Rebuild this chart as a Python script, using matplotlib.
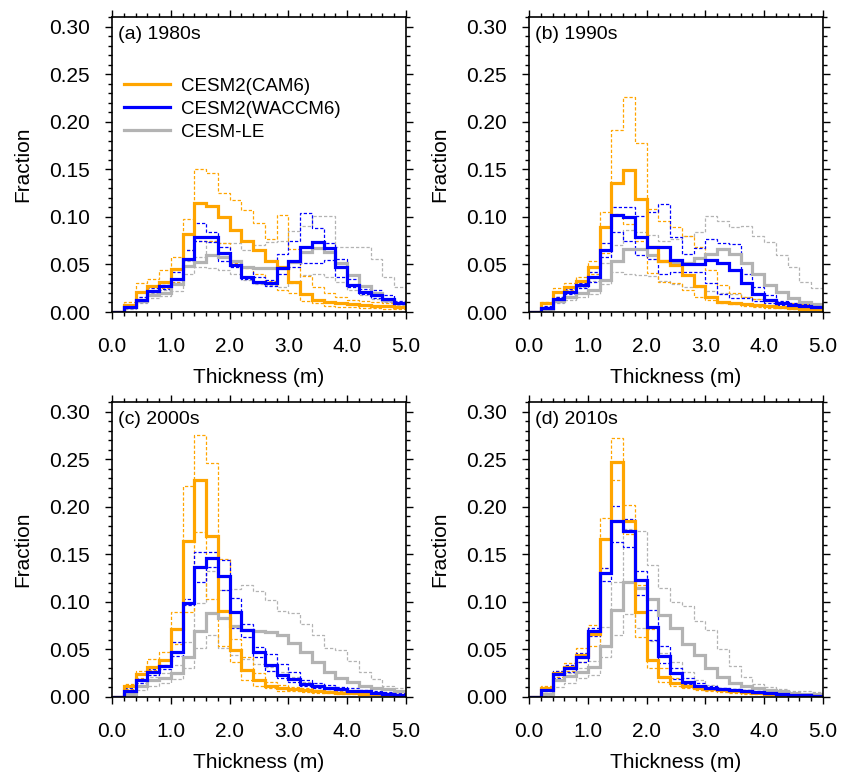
#!/usr/bin/env python3
"""Sea-ice thickness distributions by decade: CESM2(CAM6), CESM2(WACCM6), CESM-LE."""

import matplotlib
matplotlib.use("Agg")
import matplotlib.pyplot as plt
from matplotlib.lines import Line2D
from matplotlib.ticker import MultipleLocator, FormatStrFormatter

plt.rcParams["font.family"] = ["Liberation Sans", "DejaVu Sans"]

ORANGE = "#ffa500"
BLUE = "#0000ff"
GRAY = "#b3b3b3"

# 0.2 m thickness bins, 0-5 m
THICKNESS_EDGES = [0.0, 0.2, 0.4, 0.6, 0.8, 1.0, 1.2, 1.4, 1.6, 1.8, 2.0, 2.2, 2.4,
                   2.6, 2.8, 3.0, 3.2, 3.4, 3.6, 3.8, 4.0, 4.2, 4.4, 4.6, 4.8, 5.0]

PANEL_TITLES = ["(a) 1980s", "(b) 1990s", "(c) 2000s", "(d) 2010s"]
MODEL_NAMES = ["CESM2(CAM6)", "CESM2(WACCM6)", "CESM-LE"]

# ---- 1980s ----
cam6_mean_1980s = [0, 0.007, 0.021, 0.027, 0.032, 0.045, 0.082, 0.115, 0.111, 0.100, 0.086, 0.075, 0.065,
                   0.054, 0.047, 0.032, 0.019, 0.013, 0.011, 0.009, 0.008, 0.007, 0.006, 0.006, 0.005]
cam6_min_1980s = [0, 0.005, 0.016, 0.021, 0.025, 0.032, 0.065, 0.075, 0.075, 0.072, 0.051, 0.046, 0.040,
                  0.033, 0.023, 0.020, 0.012, 0.009, 0.006, 0.005, 0.005, 0.004, 0.004, 0.003, 0.003]
cam6_max_1980s = [0, 0.011, 0.031, 0.035, 0.044, 0.058, 0.098, 0.150, 0.146, 0.125, 0.118, 0.107, 0.094,
                  0.077, 0.102, 0.066, 0.038, 0.026, 0.020, 0.016, 0.013, 0.012, 0.010, 0.009, 0.008]
waccm_mean_1980s = [0, 0.005, 0.013, 0.022, 0.027, 0.035, 0.056, 0.079, 0.079, 0.062, 0.049, 0.037, 0.032,
                    0.031, 0.046, 0.054, 0.068, 0.074, 0.067, 0.047, 0.028, 0.021, 0.018, 0.014, 0.009]
waccm_min_1980s = [0, 0.004, 0.011, 0.019, 0.024, 0.030, 0.055, 0.075, 0.074, 0.054, 0.047, 0.035, 0.030,
                   0.027, 0.040, 0.047, 0.052, 0.051, 0.055, 0.037, 0.026, 0.019, 0.015, 0.012, 0.009]
waccm_max_1980s = [0, 0.007, 0.016, 0.025, 0.030, 0.042, 0.065, 0.094, 0.084, 0.068, 0.054, 0.047, 0.037,
                   0.034, 0.061, 0.075, 0.104, 0.088, 0.073, 0.056, 0.035, 0.024, 0.023, 0.018, 0.012]
le_mean_1980s = [0, 0.005, 0.012, 0.018, 0.020, 0.029, 0.048, 0.053, 0.060, 0.058, 0.054, 0.047, 0.046,
                 0.046, 0.046, 0.053, 0.063, 0.067, 0.063, 0.052, 0.039, 0.027, 0.020, 0.013, 0.009]
le_min_1980s = [0, 0.003, 0.009, 0.015, 0.017, 0.022, 0.040, 0.047, 0.046, 0.044, 0.040, 0.034, 0.029,
                0.028, 0.026, 0.030, 0.039, 0.040, 0.037, 0.032, 0.023, 0.018, 0.014, 0.011, 0.007]
le_max_1980s = [0, 0.006, 0.013, 0.020, 0.023, 0.030, 0.054, 0.058, 0.075, 0.072, 0.072, 0.065, 0.070,
                0.074, 0.075, 0.085, 0.090, 0.101, 0.101, 0.068, 0.068, 0.068, 0.056, 0.037, 0.026]

# ---- 1990s ----
cam6_mean_1990s = [0, 0.009, 0.021, 0.026, 0.033, 0.047, 0.089, 0.136, 0.149, 0.119, 0.068, 0.054, 0.049,
                   0.039, 0.027, 0.016, 0.011, 0.009, 0.008, 0.007, 0.006, 0.005, 0.0045, 0.0035, 0.003]
cam6_min_1990s = [0, 0.005, 0.016, 0.023, 0.029, 0.040, 0.062, 0.103, 0.093, 0.075, 0.041, 0.032, 0.030,
                  0.023, 0.016, 0.013, 0.0095, 0.008, 0.006, 0.005, 0.004, 0.004, 0.003, 0.003, 0.002]
cam6_max_1990s = [0, 0.011, 0.025, 0.030, 0.037, 0.054, 0.105, 0.191, 0.226, 0.178, 0.108, 0.096, 0.089,
                  0.080, 0.068, 0.044, 0.028, 0.020, 0.016, 0.014, 0.012, 0.011, 0.0095, 0.008, 0.007]
waccm_mean_1990s = [0, 0.004, 0.014, 0.021, 0.028, 0.037, 0.065, 0.102, 0.100, 0.079, 0.068, 0.068, 0.055,
                    0.050, 0.050, 0.055, 0.051, 0.044, 0.031, 0.019, 0.013, 0.0095, 0.007, 0.006, 0.005]
waccm_min_1990s = [0, 0.0025, 0.0105, 0.019, 0.025, 0.032, 0.058, 0.084, 0.075, 0.060, 0.056, 0.040, 0.042,
                   0.042, 0.042, 0.031, 0.019, 0.015, 0.015, 0.012, 0.0095, 0.007, 0.006, 0.005, 0.004]
waccm_max_1990s = [0, 0.006, 0.016, 0.024, 0.031, 0.042, 0.072, 0.110, 0.110, 0.101, 0.105, 0.113, 0.079,
                   0.061, 0.067, 0.077, 0.072, 0.071, 0.040, 0.026, 0.018, 0.012, 0.0095, 0.008, 0.007]
le_mean_1990s = [0, 0.0035, 0.012, 0.016, 0.020, 0.023, 0.034, 0.054, 0.066, 0.066, 0.060, 0.054, 0.052,
                 0.052, 0.057, 0.061, 0.066, 0.061, 0.051, 0.040, 0.028, 0.021, 0.015, 0.0105, 0.008]
le_min_1990s = [0, 0.002, 0.009, 0.013, 0.016, 0.019, 0.029, 0.042, 0.040, 0.039, 0.038, 0.033, 0.029,
                0.026, 0.026, 0.022, 0.020, 0.019, 0.016, 0.014, 0.012, 0.009, 0.007, 0.006, 0.005]
le_max_1990s = [0, 0.005, 0.016, 0.021, 0.026, 0.033, 0.051, 0.070, 0.086, 0.084, 0.081, 0.075, 0.077,
                0.080, 0.084, 0.101, 0.096, 0.089, 0.090, 0.080, 0.074, 0.060, 0.047, 0.032, 0.025]

# ---- 2000s ----
cam6_mean_2000s = [0, 0.012, 0.024, 0.032, 0.039, 0.071, 0.164, 0.228, 0.169, 0.090, 0.049, 0.028, 0.018,
                   0.012, 0.0095, 0.008, 0.007, 0.006, 0.005, 0.0045, 0.004, 0.0035, 0.003, 0.0025, 0.002]
cam6_min_2000s = [0, 0.008, 0.020, 0.028, 0.034, 0.056, 0.089, 0.173, 0.103, 0.054, 0.037, 0.018, 0.012,
                  0.009, 0.0065, 0.006, 0.005, 0.0045, 0.004, 0.0035, 0.003, 0.003, 0.0025, 0.002, 0.002]
cam6_max_2000s = [0, 0.014, 0.027, 0.040, 0.047, 0.089, 0.222, 0.275, 0.246, 0.145, 0.061, 0.042, 0.025,
                  0.016, 0.013, 0.0105, 0.009, 0.007, 0.0065, 0.006, 0.0055, 0.005, 0.0045, 0.004, 0.0035]
waccm_mean_2000s = [0, 0.006, 0.018, 0.026, 0.033, 0.047, 0.099, 0.137, 0.146, 0.127, 0.089, 0.070, 0.047,
                    0.034, 0.023, 0.019, 0.014, 0.012, 0.009, 0.008, 0.006, 0.006, 0.0045, 0.0035, 0.0025]
waccm_min_2000s = [0, 0.004, 0.015, 0.023, 0.029, 0.043, 0.097, 0.121, 0.137, 0.112, 0.073, 0.063, 0.042,
                   0.027, 0.020, 0.016, 0.012, 0.0095, 0.008, 0.007, 0.006, 0.005, 0.004, 0.003, 0.002]
waccm_max_2000s = [0, 0.009, 0.019, 0.029, 0.039, 0.058, 0.103, 0.152, 0.152, 0.144, 0.104, 0.077, 0.053,
                   0.045, 0.035, 0.026, 0.018, 0.015, 0.013, 0.0105, 0.009, 0.007, 0.006, 0.005, 0.004]
le_mean_2000s = [0, 0.0035, 0.012, 0.018, 0.020, 0.025, 0.042, 0.069, 0.088, 0.083, 0.075, 0.070, 0.069,
                 0.068, 0.065, 0.057, 0.047, 0.037, 0.026, 0.020, 0.016, 0.012, 0.0095, 0.008, 0.006]
le_min_2000s = [0, 0.002, 0.007, 0.012, 0.015, 0.019, 0.030, 0.052, 0.065, 0.051, 0.044, 0.040, 0.035,
                0.032, 0.026, 0.021, 0.016, 0.013, 0.0105, 0.009, 0.007, 0.006, 0.005, 0.004, 0.003]
le_max_2000s = [0, 0.006, 0.015, 0.021, 0.025, 0.034, 0.058, 0.099, 0.132, 0.112, 0.114, 0.118, 0.111,
                0.102, 0.090, 0.088, 0.077, 0.065, 0.051, 0.049, 0.038, 0.026, 0.019, 0.0115, 0.009]

# ---- 2010s ----
cam6_mean_2010s = [0, 0.0095, 0.025, 0.032, 0.044, 0.066, 0.166, 0.247, 0.185, 0.089, 0.039, 0.021, 0.015,
                   0.012, 0.0095, 0.008, 0.007, 0.006, 0.005, 0.004, 0.003, 0.002, 0.002, 0.0015, 0.001]
cam6_min_2010s = [0, 0.006, 0.021, 0.027, 0.037, 0.054, 0.136, 0.228, 0.171, 0.063, 0.031, 0.016, 0.012,
                  0.009, 0.007, 0.006, 0.005, 0.004, 0.0035, 0.003, 0.0025, 0.002, 0.0015, 0.001, 0.001]
cam6_max_2010s = [0, 0.012, 0.027, 0.036, 0.052, 0.076, 0.188, 0.272, 0.202, 0.118, 0.071, 0.030, 0.020,
                  0.015, 0.012, 0.0095, 0.008, 0.007, 0.006, 0.005, 0.004, 0.0035, 0.003, 0.0025, 0.002]
waccm_mean_2010s = [0, 0.007, 0.024, 0.030, 0.042, 0.069, 0.130, 0.185, 0.174, 0.123, 0.074, 0.043, 0.025,
                    0.016, 0.012, 0.0095, 0.008, 0.007, 0.006, 0.005, 0.004, 0.003, 0.0025, 0.002, 0.0015]
waccm_min_2010s = [0, 0.0035, 0.020, 0.026, 0.037, 0.064, 0.122, 0.163, 0.158, 0.107, 0.060, 0.036, 0.019,
                   0.014, 0.0095, 0.008, 0.007, 0.006, 0.005, 0.004, 0.0035, 0.003, 0.002, 0.0015, 0.001]
waccm_max_2010s = [0, 0.009, 0.027, 0.034, 0.046, 0.073, 0.136, 0.201, 0.187, 0.132, 0.091, 0.054, 0.031,
                   0.020, 0.015, 0.012, 0.0095, 0.008, 0.007, 0.006, 0.005, 0.004, 0.0035, 0.003, 0.002]
le_mean_2010s = [0, 0.0035, 0.018, 0.022, 0.026, 0.032, 0.054, 0.091, 0.121, 0.115, 0.103, 0.086, 0.072,
                 0.056, 0.044, 0.031, 0.021, 0.015, 0.0115, 0.009, 0.007, 0.006, 0.0045, 0.0035, 0.003]
le_min_2010s = [0, 0.001, 0.0105, 0.015, 0.020, 0.023, 0.042, 0.065, 0.087, 0.072, 0.059, 0.046, 0.037,
                0.026, 0.018, 0.013, 0.0095, 0.008, 0.007, 0.006, 0.005, 0.004, 0.003, 0.0025, 0.002]
le_max_2010s = [0, 0.006, 0.021, 0.025, 0.030, 0.038, 0.074, 0.121, 0.177, 0.174, 0.139, 0.115, 0.100,
                0.096, 0.080, 0.070, 0.050, 0.033, 0.021, 0.014, 0.0105, 0.008, 0.0065, 0.006, 0.005]

PANELS = [
    [(le_mean_1980s, le_min_1980s, le_max_1980s),
     (cam6_mean_1980s, cam6_min_1980s, cam6_max_1980s),
     (waccm_mean_1980s, waccm_min_1980s, waccm_max_1980s)],
    [(le_mean_1990s, le_min_1990s, le_max_1990s),
     (cam6_mean_1990s, cam6_min_1990s, cam6_max_1990s),
     (waccm_mean_1990s, waccm_min_1990s, waccm_max_1990s)],
    [(le_mean_2000s, le_min_2000s, le_max_2000s),
     (cam6_mean_2000s, cam6_min_2000s, cam6_max_2000s),
     (waccm_mean_2000s, waccm_min_2000s, waccm_max_2000s)],
    [(le_mean_2010s, le_min_2010s, le_max_2010s),
     (cam6_mean_2010s, cam6_min_2010s, cam6_max_2010s),
     (waccm_mean_2010s, waccm_min_2010s, waccm_max_2010s)],
]
COLORS = [GRAY, ORANGE, BLUE]  # same order as the tuples above

W, H = 846, 773
AX_W, AX_H = 294, 295
AX_POS = [(112, 17), (529, 17), (112, 402), (529, 402)]  # left, top in pixels


def draw_panel(ax, series, title):
    dash = (0, (2.6, 1.6))
    # envelopes first, then the means on top
    for (mean, lo, hi), col in zip(series, COLORS):
        ax.stairs(lo, THICKNESS_EDGES, color=col, lw=0.9, ls=dash, baseline=None)
        ax.stairs(hi, THICKNESS_EDGES, color=col, lw=0.9, ls=dash, baseline=None)
    for (mean, lo, hi), col in zip(series, COLORS):
        ax.stairs(mean, THICKNESS_EDGES, color=col, lw=2.3, baseline=None)

    ax.set_xlim(0, 5)
    ax.set_ylim(0, 0.31)
    ax.xaxis.set_major_locator(MultipleLocator(1.0))
    ax.xaxis.set_minor_locator(MultipleLocator(0.2))
    ax.yaxis.set_major_locator(MultipleLocator(0.05))
    ax.yaxis.set_minor_locator(MultipleLocator(0.01))
    ax.xaxis.set_major_formatter(FormatStrFormatter("%.1f"))
    ax.yaxis.set_major_formatter(FormatStrFormatter("%.2f"))
    ax.tick_params(which="both", direction="out", top=True, right=True, width=1.0)
    ax.tick_params(which="major", length=5, labelsize=15)
    ax.tick_params(axis="x", which="major", pad=13)
    ax.tick_params(axis="y", which="major", pad=11)
    ax.tick_params(which="minor", length=3)
    for sp in ax.spines.values():
        sp.set_linewidth(1.2)

    ax.set_xlabel("Thickness (m)", fontsize=15)
    ax.set_ylabel("Fraction", fontsize=15)
    ax.xaxis.set_label_coords(0.5, -0.19)
    ax.yaxis.set_label_coords(-0.272, 0.5)
    ax.text(0.02, 0.94, title, transform=ax.transAxes, fontsize=14, ha="left", va="center")


def main():
    fig = plt.figure(figsize=(W / 100, H / 100), dpi=100)
    for i, (left, top) in enumerate(AX_POS):
        ax = fig.add_axes([left / W, (H - top - AX_H) / H, AX_W / W, AX_H / H])
        draw_panel(ax, PANELS[i], PANEL_TITLES[i])
        if i == 0:
            handles = [Line2D([], [], color=c, lw=2.3) for c in (ORANGE, BLUE, GRAY)]
            ax.legend(handles, MODEL_NAMES, loc="upper left", bbox_to_anchor=(0.04, 0.795),
                      frameon=False, fontsize=13.5, handlelength=2.45, handletextpad=0.6,
                      labelspacing=0.32, borderpad=0, borderaxespad=0)

    fig.savefig("out.png", dpi=100, facecolor="white")
    plt.close(fig)


if __name__ == "__main__":
    main()
